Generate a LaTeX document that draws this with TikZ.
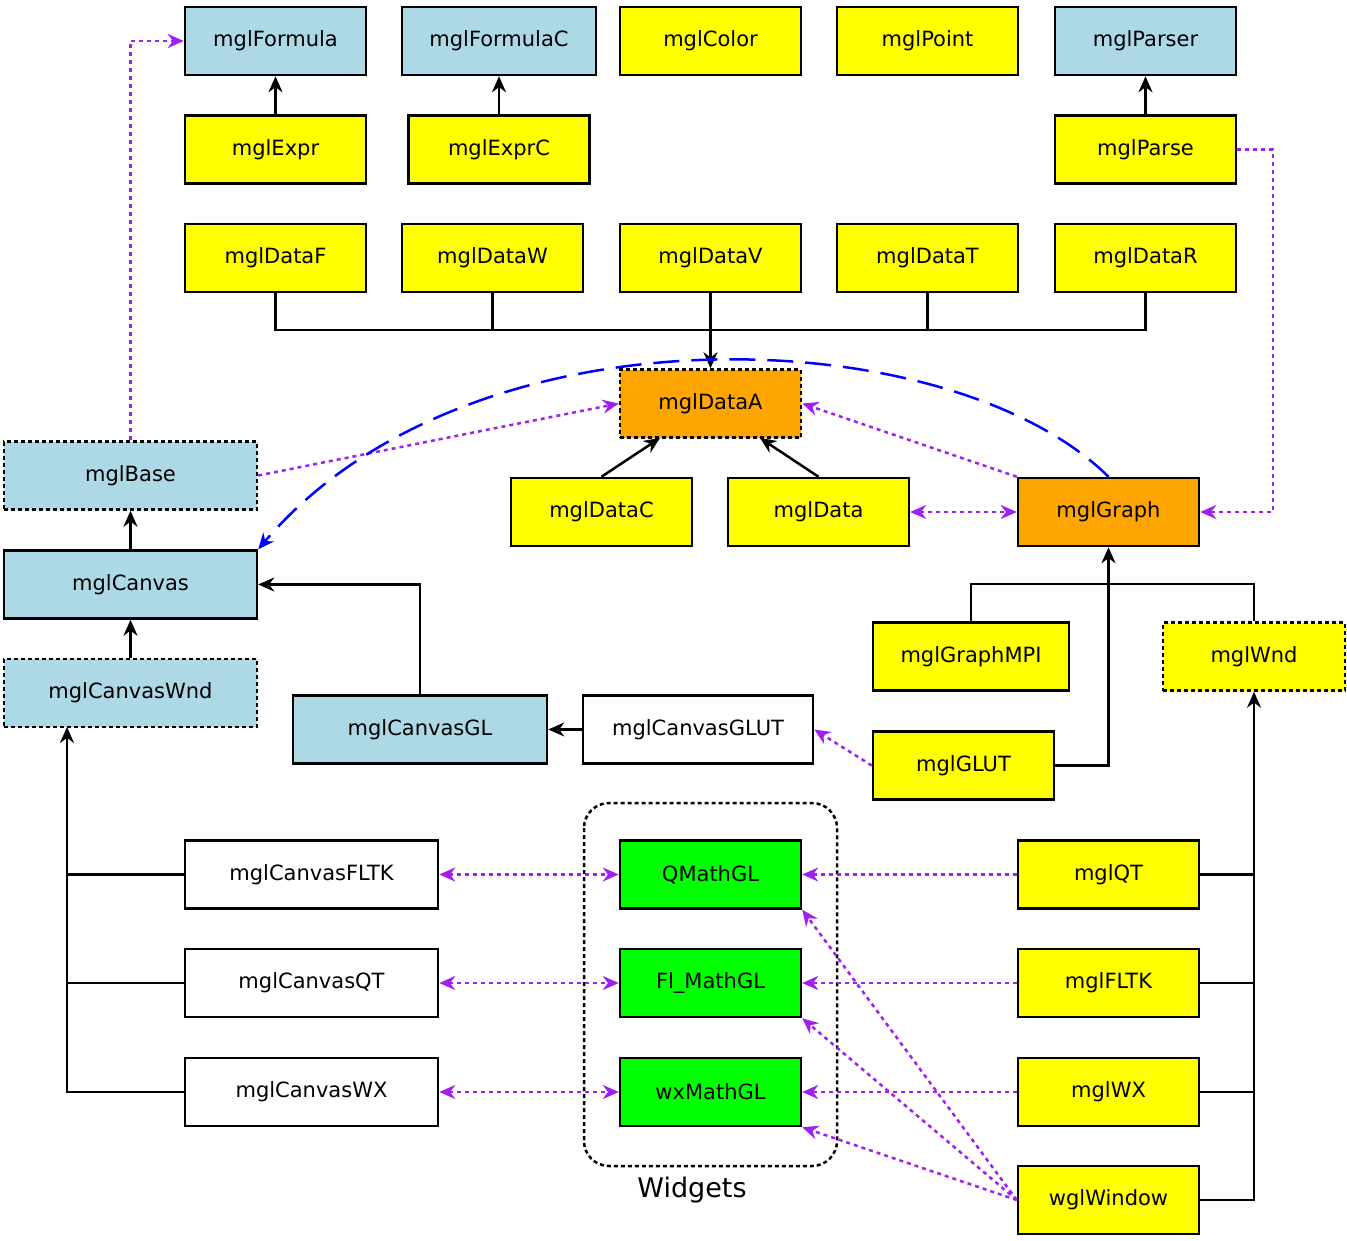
\documentclass[tikz,border=0pt]{standalone}
\usepackage{fontspec}
\setmainfont{DejaVu Sans}
\usetikzlibrary{arrows.meta}
\definecolor{lb}{RGB}{173,216,230}
\definecolor{yl}{RGB}{255,255,0}
\definecolor{og}{RGB}{255,165,0}
\definecolor{gr}{RGB}{0,255,0}
\definecolor{pp}{RGB}{160,32,240}
\begin{document}
\begin{tikzpicture}[x=1pt,y=-1pt,
 box/.style={draw=black,line width=2.5pt,minimum height=68pt,inner sep=0pt,font=\fontsize{21}{24}\selectfont},
 w181/.style={minimum width=181pt}, w253/.style={minimum width=253pt},
 dsh/.style={dash pattern=on 4pt off 3pt},
 ln/.style={line width=2.5pt},
 ar/.style={ln,-{Stealth[length=16pt,width=14pt]}},
 pa/.style={line width=2.5pt,pp,dash pattern=on 4pt off 4pt,-{Stealth[length=16pt,width=14pt]}},
 pb/.style={pa,{Stealth[length=16pt,width=14pt]}-{Stealth[length=16pt,width=14pt]}}]
\useasboundingbox (0,0) rectangle (1347,1241);
\node[box,w181,fill=lb] (formula) at (275.5,41) {mglFormula};
\node[box,minimum width=194pt,fill=lb] (formulac) at (499,41) {mglFormulaC};
\node[box,w181,fill=yl] (color) at (710.5,41) {mglColor};
\node[box,w181,fill=yl] (point) at (927.5,41) {mglPoint};
\node[box,w181,fill=lb] (parser) at (1145.5,41) {mglParser};
\node[box,w181,fill=yl] (expr) at (275.5,149.5) {mglExpr};
\node[box,w181,fill=yl] (exprc) at (499,149.5) {mglExprC};
\node[box,w181,fill=yl] (parse) at (1145.5,149.5) {mglParse};
\node[box,w181,fill=yl] (dF) at (275.5,258) {mglDataF};
\node[box,w181,fill=yl] (dW) at (492.5,258) {mglDataW};
\node[box,w181,fill=yl] (dV) at (710.5,258) {mglDataV};
\node[box,w181,fill=yl] (dT) at (927.5,258) {mglDataT};
\node[box,w181,fill=yl] (dR) at (1145.5,258) {mglDataR};
\node[box,w181,fill=og,dsh] (dA) at (710.5,403.5) {mglDataA};
\node[box,w253,fill=lb,dsh] (base) at (130.5,475.5) {mglBase};
\node[box,w181,fill=yl] (dC) at (601.5,512) {mglDataC};
\node[box,w181,fill=yl] (data) at (818.5,512) {mglData};
\node[box,w181,fill=og] (graph) at (1108.5,512) {mglGraph};
\node[box,w253,fill=lb] (canvas) at (130.5,584.5) {mglCanvas};
\node[box,minimum width=196pt,fill=yl] (mpi) at (971,656.5) {mglGraphMPI};
\node[box,minimum width=182pt,fill=yl,dsh] (wnd) at (1254,656.5) {mglWnd};
\node[box,w253,fill=lb,dsh] (cwnd) at (130.5,693) {mglCanvasWnd};
\node[box,minimum width=254pt,fill=lb] (cgl) at (420,729.5) {mglCanvasGL};
\node[box,minimum width=230pt,fill=white] (cglut) at (698,729.5) {mglCanvasGLUT};
\node[box,w181,fill=yl] (glut) at (963.5,765.5) {mglGLUT};
\node[box,w253,fill=white] (cfltk) at (311.5,874.5) {mglCanvasFLTK};
\node[box,w253,fill=white] (cqt) at (311.5,983) {mglCanvasQT};
\node[box,w253,fill=white] (cwx) at (311.5,1092) {mglCanvasWX};
\node[box,w181,fill=gr] (qm) at (710.5,874.5) {QMathGL};
\node[box,w181,fill=gr] (fm) at (710.5,983) {Fl\_MathGL};
\node[box,w181,fill=gr] (wm) at (710.5,1092) {wxMathGL};
\node[box,w181,fill=yl] (qt) at (1108.5,874.5) {mglQT};
\node[box,w181,fill=yl] (fltk) at (1108.5,983) {mglFLTK};
\node[box,w181,fill=yl] (wx) at (1108.5,1092) {mglWX};
\node[box,w181,fill=yl] (wgl) at (1108.5,1200) {wglWindow};
\draw[ln,dsh,rounded corners=25pt] (584,803) rectangle (837,1166);
\node[font=\fontsize{27}{30}\selectfont] (wlab) at (692,1190) {Widgets};
% top arrows
\draw[ar] (expr) -- (formula);
\draw[ar] (exprc) -- (formulac);
\draw[ar] (parse) -- (parser);
\draw[ln] (dF.south) |- (dR.south |- 0,330) -- (dR.south);
\draw[ln] (dW.south) |- (710,330);
\draw[ln] (dT.south) |- (710,330);
\draw[ar] (dV.south) -- (dA.north);
\draw[ar] (dC.north) -- (660,438);
\draw[ar] (data.north) -- (760,438);
% purple
\draw[pa] (base.north) |- (formula.west);
\draw[pa] (base.east) -- (dA.west);
\draw[pa] (graph.north west) -- (dA.east);
\draw[pb] (data) -- (graph);
\draw[pa] (parse.east) -| (1273,512) -- (graph.east);
\draw[pa] (glut.west) -- (cglut.east);
% blue curve
\draw[line width=2.5pt,blue,dash pattern=on 26pt off 12pt,-{Stealth[length=16pt,width=14pt]}] (graph.north) .. controls (950,320) and (470,300) .. (canvas.north east);
% canvas stack
\draw[ar] (canvas) -- (base);
\draw[ar] (cwnd) -- (canvas);
\draw[ar] (cgl.north) |- (canvas.east);
\draw[ar] (cglut) -- (cgl);
\draw[ar] (glut.east) -| (graph.south);
\draw[ln] (mpi.north) |- (wnd.north |- 0,584) -- (wnd.north);
% right bus
\draw[ar] (wgl.east) -| (wnd.south);
\draw[ln] (qt.east) -- (1254,874.5);
\draw[ln] (fltk.east) -- (1254,983);
\draw[ln] (wx.east) -- (1254,1092);
% left bus
\draw[ar] (cwx.west) -| (67,727);
\draw[ln] (cfltk.west) -- (67,874.5);
\draw[ln] (cqt.west) -- (67,983);
% widgets
\draw[pb] (cfltk) -- (qm);
\draw[pb] (cqt) -- (fm);
\draw[pb] (cwx) -- (wm);
\draw[pa] (qt) -- (qm);
\draw[pa] (fltk) -- (fm);
\draw[pa] (wx) -- (wm);
\draw[pa] (wgl.west) -- (qm.south east);
\draw[pa] (wgl.west) -- (fm.south east);
\draw[pa] (wgl.west) -- (wm.south east);
\end{tikzpicture}
\end{document}
